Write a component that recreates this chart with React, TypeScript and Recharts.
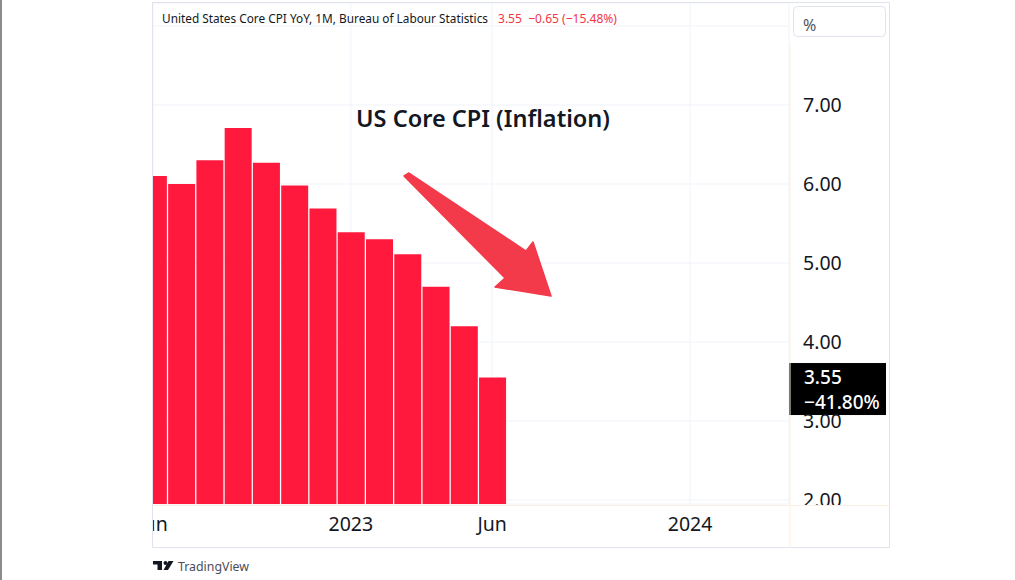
import React from 'react';
import { BarChart, Bar, XAxis, YAxis, CartesianGrid, ReferenceLine } from 'recharts';

// Data
const months = [
    'Jun 2022', 'Jul 2022', 'Aug 2022', 'Sep 2022', 'Oct 2022', 'Nov 2022', 'Dec 2022',
    'Jan 2023', 'Feb 2023', 'Mar 2023', 'Apr 2023', 'May 2023', 'Jun 2023',
];
const coreCpi = [6.1, 6.0, 6.3, 6.71, 6.27, 5.98, 5.69, 5.39, 5.3, 5.11, 4.7, 4.2, 3.55];
const xTickIndex = [0, 7, 12, 19];
const xTickLabels = ['Jun', '2023', 'Jun', '2024'];
const yTicks = [2, 3, 4, 5, 6, 7, 8];
const legendValues = ['3.55', '−0.65', '(−15.48%)'];
const lastChange = '−41.80%';

const data = months.map((month, idx) => ({ idx, month, value: coreCpi[idx] }));

const FONT = '"Noto Sans", sans-serif';
const TEXT = '#131722';

// chart box sits inside the frame: page x 153, y 3
const CHART_W = 737;
const CHART_H = 545;
const AXIS_W = 101;
const AXIS_H = 44;
const CLIP_Y = 502.5; // price labels get cut here

const PriceTick = ({ x, y, payload }: any) => {
    const v = payload.value as number;
    if (v >= 8) return <g />;
    const label = v.toFixed(2);
    const text = (ty: number) => (
        <text x={0} y={ty} dy="0.36em" fontFamily={FONT} fontSize={19.5} fill={TEXT}>
            {label}
        </text>
    );
    if (y + 12 > CLIP_Y) {
        const top = y - 16;
        return (
            <svg x={x} y={top} width={80} height={CLIP_Y - top} overflow="hidden">
                {text(16)}
            </svg>
        );
    }
    return <g transform={`translate(${x},0)`}>{text(y)}</g>;
};

const TimeTick = ({ x, y, payload }: any) => {
    const i = xTickIndex.indexOf(payload.value);
    return (
        <text x={x} y={y + 27} textAnchor="middle" fontFamily={FONT} fontSize={19.5} fill={TEXT}>
            {xTickLabels[i]}
        </text>
    );
};

const LastValueTag = ({ viewBox }: any) => {
    if (!viewBox) return null;
    const left = viewBox.x + viewBox.width;
    const y = viewBox.y;
    const style = { fontFamily: FONT, fontSize: 19, fontWeight: 500, fill: '#fff' };
    return (
        <g>
            <rect x={left} y={y - 14.5} width={97} height={52} fill="#000" />
            <text x={left + 15} y={y + 6.5} style={style}>
                {coreCpi[coreCpi.length - 1].toFixed(2)}
            </text>
            <text x={left + 15} y={y + 31.5} style={style}>
                {lastChange}
            </text>
        </g>
    );
};

const Overlay = () => (
    <svg
        width={1015}
        height={580}
        style={{ position: 'absolute', left: 0, top: 0, pointerEvents: 'none' }}
    >
        {/* faint pane borders */}
        <line x1={153} x2={890} y1={505.5} y2={505.5} stroke="#fcefe0" />
        <line x1={790} x2={790} y1={44} y2={548} stroke="#fcefe0" />

        <text x={162} y={22.7} fontFamily={FONT} fontSize={13} fill={TEXT} textLength={326} lengthAdjust="spacingAndGlyphs">
            United States Core CPI YoY, 1M, Bureau of Labour Statistics
        </text>
        <text x={498} y={22.7} fontFamily={FONT} fontSize={13} fill="#f23645" textLength={119} lengthAdjust="spacingAndGlyphs">
            {legendValues[0]}{'\u00a0\u00a0'}{legendValues[1]} {legendValues[2]}
        </text>

        <rect x={793.5} y={6.5} width={92} height={30} rx={4} fill="#fff" stroke="#e0e3eb" />
        <text x={803} y={31} fontFamily={FONT} fontSize={16} fill="#50535e">%</text>

        <text x={356} y={126.5} fontFamily={FONT} fontSize={23} fontWeight={600} fill={TEXT} textLength={254} lengthAdjust="spacingAndGlyphs">
            US Core CPI (Inflation)
        </text>

        <polygon
            points="404,176 409,173 526,251 533,242 551,296 495,287 505,278"
            fill="#f23a4a"
            stroke="#f23a4a"
            strokeWidth={1.5}
            strokeLinejoin="round"
        />

        {/* TradingView mark */}
        <rect x={153} y={561} width={9} height={3.5} fill="#131722" />
        <rect x={157.5} y={561} width={4.5} height={9} fill="#131722" />
        <circle cx={165.5} cy={563} r={2} fill="#131722" />
        <polygon points="168.5,561 173.5,561 168,570 163.5,570" fill="#131722" />
        <text x={178} y={570.5} fontFamily={FONT} fontSize={13} fill="#4a4d57" textLength={71} lengthAdjust="spacingAndGlyphs">
            TradingView
        </text>
    </svg>
);

const App = () => (
    <div
        style={{
            position: 'fixed',
            left: 0,
            top: 0,
            width: 1015,
            height: 580,
            background: '#fff',
            overflow: 'hidden',
        }}
    >
        <div style={{ position: 'absolute', left: 0, top: 0, width: 1.5, height: 580, background: '#8c8c8c' }} />
        <div
            style={{
                position: 'absolute',
                left: 152,
                top: 2,
                width: 736,
                height: 544,
                border: '1px solid #e0e3eb',
            }}
        />
        <div style={{ position: 'absolute', left: 153, top: 3, width: CHART_W, height: CHART_H, overflow: 'hidden' }}>
            <BarChart
                width={CHART_W}
                height={CHART_H}
                data={data}
                margin={{ top: 0, right: 0, bottom: 0, left: 0 }}
                barSize={27}
            >
                <CartesianGrid stroke="#f0f3fa" />
                <XAxis
                    dataKey="idx"
                    type="number"
                    domain={[0, 22.5]}
                    ticks={xTickIndex}
                    allowDataOverflow
                    height={AXIS_H}
                    axisLine={false}
                    tickLine={false}
                    tickSize={0}
                    tickMargin={0}
                    tick={<TimeTick />}
                    interval={0}
                />
                <YAxis
                    orientation="right"
                    domain={[1.949, 8.291]}
                    ticks={yTicks}
                    allowDataOverflow
                    width={AXIS_W}
                    axisLine={false}
                    tickLine={false}
                    tickSize={0}
                    tickMargin={14}
                    tick={<PriceTick />}
                    interval={0}
                />
                <Bar dataKey="value" fill="#ff193c" isAnimationActive={false} />
                <ReferenceLine y={coreCpi[coreCpi.length - 1]} stroke="none" label={<LastValueTag />} />
            </BarChart>
        </div>
        <Overlay />
    </div>
);

export default App;
